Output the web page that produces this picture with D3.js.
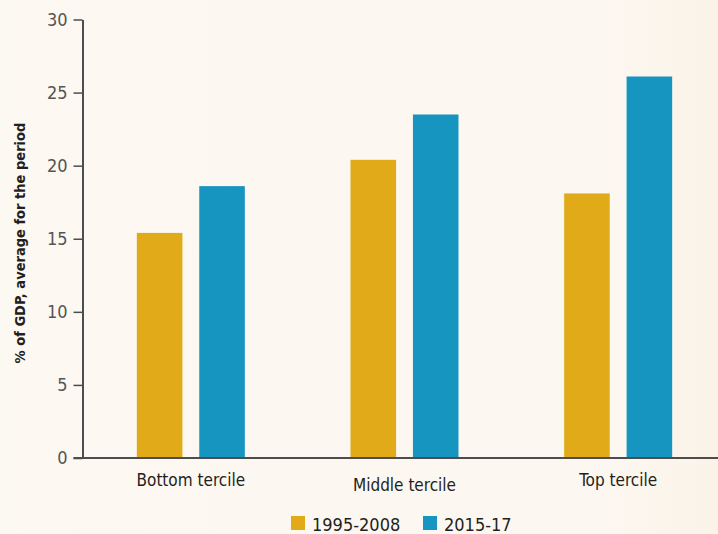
<!DOCTYPE html>
<html lang="en">
<head>
  <meta charset="UTF-8">
  <title>GDP share by tercile</title>
  <script src="https://d3js.org/d3.v7.min.js"></script>
  <style>
    body { margin: 0; background: #fcf7f0; }
    svg { display: block; }
    .tick text { font-family: "Liberation Sans Narrow", "DejaVu Sans Condensed", sans-serif; }
  </style>
</head>
<body>
<script>
  // Data
  const categories = ['Bottom tercile', 'Middle tercile', 'Top tercile'];
  const seriesNames = ['1995-2008', '2015-17'];
  const early = [15.4, 20.4, 18.1];
  const late = [18.6, 23.5, 26.1];
  const yTicks = [0, 5, 10, 15, 20, 25, 30];

  const colors = ['#e0aa18', '#1795c1'];
  const W = 718, H = 534;
  const font = '"Liberation Sans Narrow", "DejaVu Sans Condensed", sans-serif';

  const svg = d3.select('body').append('svg')
    .attr('width', W)
    .attr('height', H);

  const defs = svg.append('defs');
  const grad = defs.append('linearGradient').attr('id', 'bg');
  grad.append('stop').attr('offset', '0%').attr('stop-color', '#fcf8f2');
  grad.append('stop').attr('offset', '85%').attr('stop-color', '#fcf7f0');
  grad.append('stop').attr('offset', '100%').attr('stop-color', '#fbf3e8');
  svg.append('rect').attr('width', W).attr('height', H).attr('fill', 'url(#bg)');

  const x = d3.scaleBand()
    .domain(categories)
    .range([84, 725])
    .paddingInner(0)
    .paddingOuter(0);

  const y = d3.scaleLinear()
    .domain([0, 30])
    .range([458, 19.5]);

  const inner = d3.scaleBand()
    .domain(seriesNames)
    .range([x.bandwidth() / 2 - 54, x.bandwidth() / 2 + 54])
    .paddingInner(0.27)
    .paddingOuter(0);

  const rows = categories.map((c, i) => ({cat: c, values: [early[i], late[i]]}));

  // Bars
  const groups = svg.append('g').selectAll('g')
    .data(rows)
    .join('g')
    .attr('transform', d => `translate(${x(d.cat)},0)`);

  groups.selectAll('rect')
    .data(d => d.values.map((v, j) => ({name: seriesNames[j], v, j})))
    .join('rect')
    .attr('x', d => inner(d.name))
    .attr('width', inner.bandwidth())
    .attr('y', d => y(d.v))
    .attr('height', d => y(0) - y(d.v))
    .attr('fill', d => colors[d.j]);

  // Y axis
  const yAxis = svg.append('g')
    .attr('transform', 'translate(82.5,0)')
    .call(d3.axisLeft(y).tickValues(yTicks).tickSize(9).tickPadding(6).tickSizeOuter(0));
  yAxis.select('.domain').attr('stroke', '#4d4d4d').attr('stroke-width', 2);
  yAxis.selectAll('.tick line').attr('stroke', '#4d4d4d').attr('stroke-width', 1.5);
  yAxis.selectAll('.tick text')
    .attr('fill', '#555')
    .style('font-size', '18px');

  // X axis baseline
  svg.append('line')
    .attr('x1', 73.5).attr('x2', W)
    .attr('y1', y(0)).attr('y2', y(0))
    .attr('stroke', '#4d4d4d')
    .attr('stroke-width', 2);

  // Category labels
  svg.append('g').selectAll('text')
    .data(categories)
    .join('text')
    .attr('x', d => x(d) + x.bandwidth() / 2)
    .attr('y', (d, i) => i === 1 ? 491 : 486)
    .attr('text-anchor', 'middle')
    .attr('font-family', font)
    .attr('font-size', 17)
    .attr('fill', '#231f20')
    .text(d => d);

  // Y label
  svg.append('text')
    .attr('transform', 'translate(25,243) rotate(-90)')
    .attr('text-anchor', 'middle')
    .attr('font-family', font)
    .attr('font-weight', 'bold')
    .attr('font-size', 14.5)
    .attr('fill', '#231f20')
    .text('% of GDP, average for the period');

  // Legend
  const legendX = [291, 423];
  const legend = svg.append('g').selectAll('g')
    .data(seriesNames)
    .join('g')
    .attr('transform', (d, i) => `translate(${legendX[i]},516)`);
  legend.append('rect')
    .attr('width', 14).attr('height', 14)
    .attr('fill', (d, i) => colors[i]);
  legend.append('text')
    .attr('x', 21).attr('y', 15)
    .attr('font-family', font)
    .attr('font-size', 18)
    .attr('fill', '#231f20')
    .text(d => d);
</script>
</body>
</html>
